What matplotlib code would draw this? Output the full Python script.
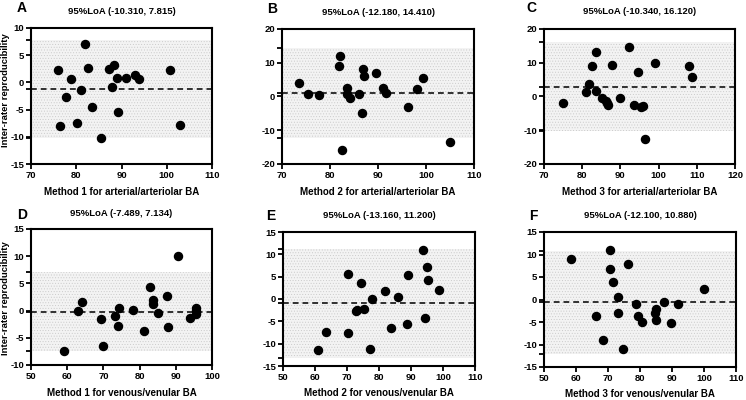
import matplotlib
matplotlib.use("Agg")
import matplotlib.pyplot as plt
from matplotlib.ticker import FixedLocator, MultipleLocator

plt.rcParams['font.family'] = ['Liberation Sans', 'DejaVu Sans']
plt.rcParams['font.weight'] = 'bold'
plt.rcParams['hatch.linewidth'] = 0.35
plt.rcParams['axes.unicode_minus'] = False

# ---------------- data ----------------
letters = ["A", "B", "C", "D", "E", "F"]
xlabels = ["Method 1 for arterial/arteriolar BA",
           "Method 2 for arterial/arteriolar BA",
           "Method 3 for arterial/arteriolar BA",
           "Method 1 for venous/venular BA",
           "Method 2 for venous/venular BA",
           "Method 3 for venous/venular BA"]
loa_low = [-10.310, -12.180, -10.340, -7.489, -13.160, -12.100]
loa_high = [7.815, 14.410, 16.120, 7.134, 11.200, 10.880]
ylabel = "Inter-rater reproducibility"

a_x = [75.9, 76.4, 77.7, 78.9, 80.1, 81.0, 81.9, 82.7, 83.4, 85.5,
       87.2, 87.9, 88.4, 88.9, 89.2, 91.1, 92.9, 93.9, 100.8, 102.9]
a_y = [2.3, -8.0, -2.7, 0.6, -7.4, -1.4, 7.1, 2.7, -4.6, -10.3,
       2.4, -0.9, 3.2, 0.8, -5.4, 0.8, 1.3, 0.7, 2.2, -7.9]

b_x = [73.5, 75.4, 77.7, 82.0, 81.9, 83.5, 83.5, 84.2, 86.1, 86.9,
       87.1, 86.7, 89.6, 91.0, 91.6, 96.2, 98.2, 99.4, 105.0, 82.4]
b_y = [4.0, 0.6, 0.5, 12.0, 9.0, 2.6, 0.6, -0.5, 0.6, 8.0,
       6.0, -4.8, 6.9, 2.4, 0.9, -3.1, 2.1, 5.5, -13.6, -15.9]

c_x = [74.9, 81.0, 81.9, 82.5, 83.5, 83.5, 85.2, 86.1, 86.5, 86.8,
       87.9, 89.9, 92.2, 93.6, 94.6, 95.4, 95.9, 96.4, 99.1, 107.9, 108.8]
c_y = [-1.8, 1.2, 3.6, 8.9, 13.2, 1.6, -0.5, -1.3, -1.9, -2.4,
       9.2, -0.5, 14.6, -2.5, 7.3, -3.1, -2.8, -12.6, 10.0, 8.9, 5.8]

d_x = [59.0, 62.9, 64.0, 69.4, 69.9, 73.3, 73.9, 74.2, 78.2, 81.3,
       82.9, 83.7, 83.8, 85.2, 87.6, 87.9, 90.5, 93.9, 95.6, 95.6, 95.6]
d_y = [-7.4, -0.1, 1.6, -1.5, -6.5, -1.0, -2.8, 0.5, 0.1, -3.8,
       4.4, 1.9, 1.3, -0.5, 2.6, -3.0, 10.0, -1.4, 0.4, 0.0, -0.6]

e_x = [61.0, 63.3, 70.2, 70.3, 72.8, 73.2, 74.5, 75.3, 77.3, 77.7,
       81.8, 83.7, 86.0, 88.9, 89.2, 93.7, 94.4, 94.9, 95.3, 98.8]
e_y = [-11.5, -7.3, 5.7, -7.6, -2.7, -2.4, 3.5, -2.2, -11.3, 0.0,
       1.9, -6.5, 0.4, -5.7, 5.4, 11.0, -4.2, 7.2, 4.3, 2.0]

f_x = [58.3, 66.4, 68.4, 70.6, 70.7, 71.7, 73.2, 73.2, 74.6, 76.2,
       78.7, 79.4, 80.5, 84.9, 84.8, 85.0, 87.5, 89.6, 91.9, 100.0]
f_y = [8.9, -3.7, -9.1, 11.1, 6.7, 3.8, 0.5, -3.0, -11.0, 8.0,
       -1.0, -3.7, -5.1, -2.0, -3.0, -4.5, -0.5, -5.2, -1.1, 2.3]

xs = [a_x, b_x, c_x, d_x, e_x, f_x]
ys = [a_y, b_y, c_y, d_y, e_y, f_y]
xlims = [(70, 110), (70, 110), (70, 120), (50, 100), (50, 110), (50, 110)]
ylims = [(-15, 10), (-20, 20), (-20, 20), (-10, 15), (-15, 15), (-15, 15)]
ysteps = [5, 10, 10, 5, 5, 5]

# ---------------- layout (pixels) ----------------
W, H = 746, 400
boxes = [(31, 212, 28, 164), (282, 474, 29, 164), (544, 735, 29, 164),
         (31, 212, 229, 365), (283, 475, 232, 366), (544, 736, 232, 367)]
letter_pos = [(17, 8), (267, 9), (526, 8), (17, 215), (266, 216), (529, 216)]
title_y = [11, 12.5, 12, 214, 216, 215]
xlabel_y = [192, 192, 192, 393, 393, 394]
ylabel_y = {0: 90, 3: 298}

fig = plt.figure(figsize=(W / 100, H / 100), dpi=100)

for i in range(6):
    l, r, t, b = boxes[i]
    ax = fig.add_axes([l / W, 1 - b / H, (r - l) / W, (b - t) / H])
    lo, hi = loa_low[i], loa_high[i]
    mean = (lo + hi) / 2
    x0, x1 = xlims[i]
    ax.fill_between([x0, x1], [lo, lo], [hi, hi], facecolor='#f3f3f3',
                    edgecolor='#c8c8c8', hatch='......', linewidth=0, zorder=1)
    ax.axhline(mean, color='#222222', linestyle=(0, (3.2, 2.2)), linewidth=1.3, zorder=2)
    ax.plot(xs[i], ys[i], 'o', color='black', markersize=5.8, zorder=3)
    ax.set_xlim(x0, x1)
    ax.set_ylim(*ylims[i])
    ax.xaxis.set_major_locator(MultipleLocator(10))
    ax.yaxis.set_major_locator(MultipleLocator(ysteps[i]))
    ax.yaxis.set_minor_locator(FixedLocator([lo, mean, hi]))
    for s in ax.spines.values():
        s.set_linewidth(1.5)
        s.set_color('black')
    ax.tick_params(which='both', direction='out', length=3.5, width=1.3,
                   labelsize=6.8, pad=1.5, colors='black')
    for lab in ax.get_xticklabels() + ax.get_yticklabels():
        lab.set_fontweight('bold')
    cx = (l + r) / 2
    fig.text(cx / W, 1 - title_y[i] / H, f"95%LoA ({lo:.3f}, {hi:.3f})",
             ha='center', va='center', fontsize=6.8, fontweight='bold')
    fig.text(cx / W, 1 - xlabel_y[i] / H, xlabels[i],
             ha='center', va='center', fontsize=7, fontweight='bold')
    lx, ly = letter_pos[i]
    fig.text(lx / W, 1 - ly / H, letters[i], ha='left', va='center',
             fontsize=10, fontweight='bold')
    if i in ylabel_y:
        fig.text(5.5 / W, 1 - ylabel_y[i] / H, ylabel, rotation=90,
                 ha='center', va='center', fontsize=6.8, fontweight='bold')

fig.savefig("out.png", dpi=100)
